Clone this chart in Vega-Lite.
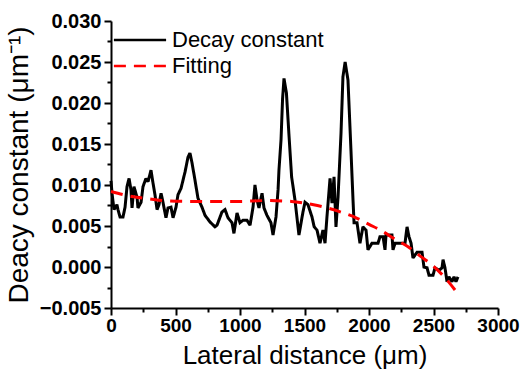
{
  "$schema": "https://vega.github.io/schema/vega-lite/v6.json",
  "autosize": "none",
  "width": 387,
  "height": 287,
  "padding": {"left": 111, "top": 21, "right": 25, "bottom": 63},
  "background": "white",
  "config": {
    "view": {"stroke": null},
    "font": "Liberation Sans"
  },
  "datasets": {
    "decay": [
      {"x": 0, "y": 0.0105}, {"x": 8, "y": 0.009}, {"x": 23, "y": 0.007}, {"x": 46, "y": 0.0076},
      {"x": 54, "y": 0.007}, {"x": 70, "y": 0.0061}, {"x": 93, "y": 0.0061}, {"x": 109, "y": 0.0073},
      {"x": 124, "y": 0.0098}, {"x": 140, "y": 0.0108}, {"x": 155, "y": 0.0094}, {"x": 163, "y": 0.0072},
      {"x": 178, "y": 0.0098}, {"x": 202, "y": 0.0085}, {"x": 209, "y": 0.0072}, {"x": 233, "y": 0.0079},
      {"x": 248, "y": 0.0098}, {"x": 271, "y": 0.0108}, {"x": 287, "y": 0.0104}, {"x": 310, "y": 0.0118},
      {"x": 326, "y": 0.0102}, {"x": 341, "y": 0.0088}, {"x": 357, "y": 0.007}, {"x": 372, "y": 0.0076},
      {"x": 388, "y": 0.009}, {"x": 403, "y": 0.0079}, {"x": 426, "y": 0.006}, {"x": 442, "y": 0.0072},
      {"x": 465, "y": 0.0073}, {"x": 481, "y": 0.006}, {"x": 504, "y": 0.0073}, {"x": 519, "y": 0.0088},
      {"x": 543, "y": 0.0096}, {"x": 574, "y": 0.0116}, {"x": 597, "y": 0.0134}, {"x": 612, "y": 0.0139},
      {"x": 628, "y": 0.0127}, {"x": 651, "y": 0.0106}, {"x": 674, "y": 0.0084}, {"x": 705, "y": 0.0073},
      {"x": 729, "y": 0.0063}, {"x": 767, "y": 0.0055}, {"x": 806, "y": 0.0049}, {"x": 822, "y": 0.0051},
      {"x": 860, "y": 0.0067}, {"x": 884, "y": 0.007}, {"x": 907, "y": 0.006}, {"x": 938, "y": 0.0054},
      {"x": 953, "y": 0.0041}, {"x": 977, "y": 0.0066}, {"x": 1000, "y": 0.0054}, {"x": 1023, "y": 0.0057},
      {"x": 1054, "y": 0.0057}, {"x": 1078, "y": 0.0051}, {"x": 1101, "y": 0.0073}, {"x": 1116, "y": 0.01},
      {"x": 1132, "y": 0.0082}, {"x": 1147, "y": 0.0072}, {"x": 1171, "y": 0.009}, {"x": 1186, "y": 0.0072},
      {"x": 1209, "y": 0.0063}, {"x": 1240, "y": 0.0054}, {"x": 1256, "y": 0.0039}, {"x": 1279, "y": 0.0061},
      {"x": 1295, "y": 0.0094}, {"x": 1302, "y": 0.0118}, {"x": 1318, "y": 0.0155}, {"x": 1330, "y": 0.0205},
      {"x": 1341, "y": 0.023}, {"x": 1360, "y": 0.0212}, {"x": 1380, "y": 0.016}, {"x": 1400, "y": 0.011},
      {"x": 1426, "y": 0.0082}, {"x": 1457, "y": 0.0039}, {"x": 1488, "y": 0.0067}, {"x": 1504, "y": 0.0079},
      {"x": 1527, "y": 0.0076}, {"x": 1558, "y": 0.0061}, {"x": 1575, "y": 0.0049}, {"x": 1597, "y": 0.0045},
      {"x": 1620, "y": 0.0029}, {"x": 1643, "y": 0.0045}, {"x": 1659, "y": 0.0029}, {"x": 1674, "y": 0.0061},
      {"x": 1698, "y": 0.0108}, {"x": 1713, "y": 0.0078}, {"x": 1729, "y": 0.011}, {"x": 1744, "y": 0.0049},
      {"x": 1760, "y": 0.0085}, {"x": 1783, "y": 0.0163}, {"x": 1798, "y": 0.0232}, {"x": 1815, "y": 0.025},
      {"x": 1837, "y": 0.0228}, {"x": 1860, "y": 0.0143}, {"x": 1876, "y": 0.0082}, {"x": 1884, "y": 0.0054},
      {"x": 1907, "y": 0.0054}, {"x": 1930, "y": 0.0029}, {"x": 1953, "y": 0.0049}, {"x": 1977, "y": 0.0045},
      {"x": 1992, "y": 0.0021}, {"x": 2023, "y": 0.0029}, {"x": 2070, "y": 0.0029}, {"x": 2085, "y": 0.0037},
      {"x": 2109, "y": 0.0037}, {"x": 2124, "y": 0.0021}, {"x": 2132, "y": 0.0039}, {"x": 2178, "y": 0.0039},
      {"x": 2186, "y": 0.0021}, {"x": 2202, "y": 0.0029}, {"x": 2279, "y": 0.0029}, {"x": 2295, "y": 0.0049},
      {"x": 2310, "y": 0.0037}, {"x": 2326, "y": 0.0029}, {"x": 2341, "y": 0.0011}, {"x": 2372, "y": 0.0018},
      {"x": 2411, "y": 0.0018}, {"x": 2426, "y": 0.0}, {"x": 2450, "y": -0.0001}, {"x": 2465, "y": -0.001},
      {"x": 2496, "y": -0.001}, {"x": 2512, "y": -0.0001}, {"x": 2543, "y": -0.0004}, {"x": 2566, "y": -0.0001},
      {"x": 2574, "y": 0.0009}, {"x": 2589, "y": -0.0001}, {"x": 2605, "y": -0.0018}, {"x": 2620, "y": -0.0012},
      {"x": 2643, "y": -0.0018}, {"x": 2659, "y": -0.0012}, {"x": 2674, "y": -0.0018}, {"x": 2690, "y": -0.0012}
    ],
    "fit": [
      {"x": 0, "y": 0.0092}, {"x": 100, "y": 0.0088}, {"x": 200, "y": 0.0085}, {"x": 300, "y": 0.0083},
      {"x": 400, "y": 0.0081}, {"x": 600, "y": 0.008}, {"x": 800, "y": 0.008}, {"x": 1000, "y": 0.008},
      {"x": 1200, "y": 0.0081}, {"x": 1400, "y": 0.008}, {"x": 1500, "y": 0.0078}, {"x": 1600, "y": 0.0075},
      {"x": 1700, "y": 0.0071}, {"x": 1800, "y": 0.0066}, {"x": 1900, "y": 0.006}, {"x": 2000, "y": 0.0052},
      {"x": 2100, "y": 0.0044}, {"x": 2200, "y": 0.0034}, {"x": 2300, "y": 0.0025}, {"x": 2400, "y": 0.0013},
      {"x": 2500, "y": 0.0001}, {"x": 2600, "y": -0.0015}, {"x": 2700, "y": -0.0035}
    ]
  },
  "resolve": {"axis": {"x": "independent", "y": "independent"}},
  "layer": [
    {
      "data": {"name": "fit"},
      "mark": {"type": "point", "opacity": 0},
      "encoding": {
        "x": {"field": "x", "type": "quantitative", "scale": {"domain": [0, 3000], "nice": false, "zero": false},
          "axis": {"orient": "bottom", "values": [250, 750, 1250, 1750, 2250, 2750], "labels": false, "domain": false, "grid": false, "title": null, "tickSize": 4, "tickWidth": 2, "tickColor": "black"}},
        "y": {"field": "y", "type": "quantitative", "scale": {"domain": [-0.005, 0.03], "nice": false, "zero": false},
          "axis": {"orient": "left", "values": [-0.0025, 0.0025, 0.0075, 0.0125, 0.0175, 0.0225, 0.0275], "labels": false, "domain": false, "grid": false, "title": null, "tickSize": 4, "tickWidth": 2, "tickColor": "black"}}
      }
    },
    {
      "data": {"name": "decay"},
      "transform": [{"calculate": "'Decay constant'", "as": "series"}],
      "mark": {"type": "line", "strokeWidth": 3, "strokeJoin": "miter", "strokeMiterLimit": 2, "clip": false},
      "encoding": {
        "x": {"field": "x", "type": "quantitative", "scale": {"domain": [0, 3000], "nice": false, "zero": false},
          "axis": {"orient": "bottom", "values": [0, 500, 1000, 1500, 2000, 2500, 3000], "format": "d", "grid": false,
            "title": "Lateral distance (μm)", "titleFont": "Liberation Sans", "titleFontSize": 26, "titleFontWeight": "normal", "titleColor": "black", "titlePadding": 7,
            "labelFont": "Liberation Sans", "labelFontSize": 19, "labelFontWeight": "bold", "labelColor": "black", "labelPadding": 1,
            "domainColor": "black", "domainWidth": 2, "tickColor": "black", "tickWidth": 2, "tickSize": 7, "labelFlush": false, "labelOverlap": false}},
        "y": {"field": "y", "type": "quantitative", "scale": {"domain": [-0.005, 0.03], "nice": false, "zero": false},
          "axis": {"orient": "left", "values": [-0.005, 0.0, 0.005, 0.01, 0.015, 0.02, 0.025, 0.03], "format": ".3f", "grid": false,
            "title": "Deacy constant (μm⁻¹)", "titleFont": "Liberation Sans", "titleFontSize": 28, "titleFontWeight": "normal", "titleColor": "black", "titlePadding": 6,
            "labelFont": "Liberation Sans", "labelFontSize": 20, "labelFontWeight": "bold", "labelColor": "black", "labelPadding": 3,
            "domainColor": "black", "domainWidth": 2, "tickColor": "black", "tickWidth": 2, "tickSize": 7, "labelFlush": false, "labelOverlap": false}},
        "color": {"field": "series", "type": "nominal",
          "scale": {"domain": ["Decay constant", "Fitting"], "range": ["#000000", "#ff0000"]},
          "legend": {"orient": "none", "legendX": 18, "legendY": 8, "title": null, "symbolType": "M-2.9,0H2.9", "symbolSize": 324, "symbolStrokeWidth": 2.5,
            "labelFont": "Liberation Sans", "labelFontSize": 22, "labelColor": "black", "labelOffset": 21, "rowPadding": 4}},
        "strokeDash": {"field": "series", "type": "nominal",
          "scale": {"domain": ["Decay constant", "Fitting"], "range": [[1, 0], [12, 8]]},
          "legend": {"orient": "none", "legendX": 18, "legendY": 8, "title": null, "symbolType": "M-2.9,0H2.9", "symbolSize": 324, "symbolStrokeWidth": 2.5,
            "labelFont": "Liberation Sans", "labelFontSize": 22, "labelColor": "black", "labelOffset": 21, "rowPadding": 4}}
      }
    },
    {
      "data": {"name": "fit"},
      "transform": [{"calculate": "'Fitting'", "as": "series"}],
      "mark": {"type": "line", "strokeWidth": 3, "interpolate": "monotone", "clip": false},
      "encoding": {
        "x": {"field": "x", "type": "quantitative", "axis": null},
        "y": {"field": "y", "type": "quantitative", "axis": null},
        "color": {"field": "series", "type": "nominal"},
        "strokeDash": {"field": "series", "type": "nominal"}
      }
    }
  ]
}
